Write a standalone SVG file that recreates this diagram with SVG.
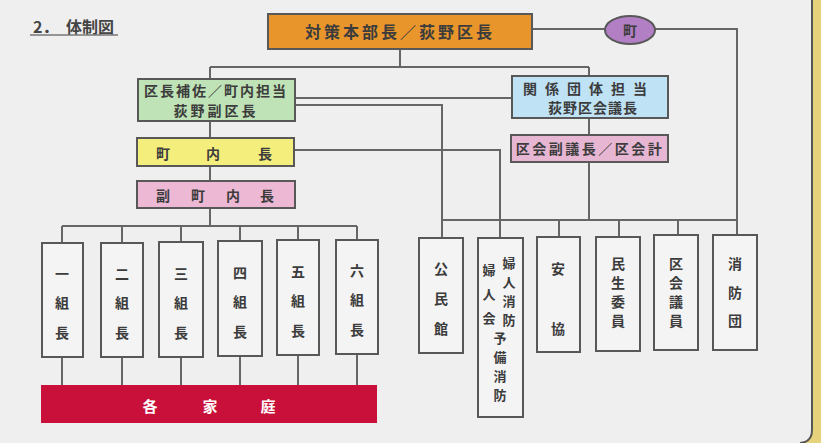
<svg xmlns="http://www.w3.org/2000/svg" width="821" height="443" viewBox="0 0 821 443">
<style>
.box{stroke:#585858;stroke-width:2}
.t{font-family:"Noto Sans CJK JP","Noto Sans CJK SC",sans-serif;font-weight:700;fill:#3c3c3c;text-anchor:middle;dominant-baseline:central}
.v{font-size:14px}
.s{font-size:13px}
.ln{fill:none;stroke:#666;stroke-width:2}
</style>
<rect x="0" y="0" width="821" height="443" fill="#e6d27a"/>
<path d="M0 0 H812 V430 Q812 443 799 443 H0 Z" fill="#efefef"/>
<path d="M812 0 V430 Q812 442 800 443" fill="none" stroke="#555" stroke-width="2"/>
<g id="title">
<text y="26" class="t" style="text-anchor:start;font-size:16px;fill:#454545"><tspan x="33">2．</tspan><tspan x="66">体制図</tspan></text>
<line x1="30" y1="35" x2="118" y2="35" stroke="#777" stroke-width="1.5"/>
</g>
<g id="connectors" class="ln">
<path d="M533 29 H605"/>
<path d="M655 29 H737 V235"/>
<path d="M400 49 V67 M210 67 H589 M210 67 V79 M589 67 V76"/>
<path d="M295 98 H512"/>
<path d="M295 105 H442 V238"/>
<path d="M294 150 H500 V238"/>
<path d="M210 121 V138 M210 166 V181 M210 208 V226"/>
<path d="M62 226 H357 M62 226 V243 M122 226 V243 M181 226 V242 M240 226 V241 M298 226 V240 M357 226 V240"/>
<path d="M62 357 V385 M122 357 V385 M181 357 V385 M240 356 V385 M298 355 V385 M357 354 V385"/>
<path d="M589 118 V135 M589 162 V220"/>
<path d="M442 220 H737 M559 220 V237 M619 220 V237 M678 220 V235"/>
</g>
<g id="honbucho">
<rect x="268" y="14" width="264" height="35" fill="#e8962c" class="box"/>
<text x="400" y="31" class="t" style="font-size:16px;letter-spacing:3px">対策本部長／荻野区長</text>
</g>
<g id="machi">
<ellipse cx="630" cy="30" rx="25" ry="14" fill="#b27ec4" class="box"/>
<text x="630" y="30" class="t" style="font-size:14px">町</text>
</g>
<g id="fukukucho">
<rect x="138" y="79" width="157" height="42" fill="#bfe3b6" class="box"/>
<text x="216" y="90" class="t" style="font-size:14px;letter-spacing:2px">区長補佐／町内担当</text>
<text x="216" y="110" class="t" style="font-size:14px;letter-spacing:3px">荻野副区長</text>
</g>
<g id="kaigicho">
<rect x="512" y="76" width="156" height="42" fill="#bfe2f4" class="box"/>
<text x="589" y="88" class="t" style="font-size:14px;letter-spacing:8px">関係団体担当</text>
<text x="593" y="107" class="t" style="font-size:14px;letter-spacing:1px">荻野区会議長</text>
</g>
<g id="fukugicho">
<rect x="511" y="135" width="157" height="27" fill="#e7b6d3" class="box"/>
<text x="590" y="148" class="t" style="font-size:14px;letter-spacing:2.5px">区会副議長／区会計</text>
</g>
<g id="chonaicho">
<rect x="137" y="138" width="157" height="28" fill="#f4ef7c" class="box"/>
<text class="t v" y="153"><tspan x="163">町</tspan><tspan x="213">内</tspan><tspan x="265">長</tspan></text>
</g>
<g id="fukuchonaicho">
<rect x="137" y="181" width="158" height="27" fill="#ecb8d4" class="box"/>
<text class="t v" y="195"><tspan x="163">副</tspan><tspan x="198">町</tspan><tspan x="233">内</tspan><tspan x="267">長</tspan></text>
</g>
<g id="kumi1">
<rect x="42" y="243" width="41" height="114" fill="#f4f4f4" class="box"/>
<text class="t v"><tspan x="62" y="273">一</tspan><tspan x="62" y="302">組</tspan><tspan x="62" y="332">長</tspan></text>
</g>
<g id="kumi2">
<rect x="101" y="243" width="42" height="114" fill="#f4f4f4" class="box"/>
<text class="t v"><tspan x="122" y="273">二</tspan><tspan x="122" y="302">組</tspan><tspan x="122" y="332">長</tspan></text>
</g>
<g id="kumi3">
<rect x="159" y="242" width="44" height="115" fill="#f4f4f4" class="box"/>
<text class="t v"><tspan x="181" y="273">三</tspan><tspan x="181" y="302">組</tspan><tspan x="181" y="332">長</tspan></text>
</g>
<g id="kumi4">
<rect x="218" y="241" width="44" height="115" fill="#f4f4f4" class="box"/>
<text class="t v"><tspan x="240" y="272">四</tspan><tspan x="240" y="301">組</tspan><tspan x="240" y="331">長</tspan></text>
</g>
<g id="kumi5">
<rect x="277" y="240" width="42" height="115" fill="#f4f4f4" class="box"/>
<text class="t v"><tspan x="298" y="271">五</tspan><tspan x="298" y="300">組</tspan><tspan x="298" y="330">長</tspan></text>
</g>
<g id="kumi6">
<rect x="336" y="240" width="42" height="114" fill="#f4f4f4" class="box"/>
<text class="t v"><tspan x="357" y="270">六</tspan><tspan x="357" y="299">組</tspan><tspan x="357" y="329">長</tspan></text>
</g>
<g id="kakukatei">
<rect x="41" y="385" width="336" height="38" fill="#c8103a"/>
<text class="t" y="405" style="font-size:15px;fill:#fff"><tspan x="150">各</tspan><tspan x="210">家</tspan><tspan x="268">庭</tspan></text>
</g>
<g id="kominkan">
<rect x="419" y="238" width="44" height="115" fill="#f4f4f4" class="box"/>
<text class="t v"><tspan x="441" y="268">公</tspan><tspan x="441" y="298">民</tspan><tspan x="441" y="328">館</tspan></text>
</g>
<g id="fujinkai">
<rect x="478" y="238" width="45" height="179" fill="#f4f4f4" class="box"/>
<text class="t s"><tspan x="509" y="262">婦</tspan><tspan x="509" y="281">人</tspan><tspan x="509" y="300">消</tspan><tspan x="509" y="319">防</tspan></text>
<text class="t s"><tspan x="489" y="269">婦</tspan><tspan x="489" y="293">人</tspan><tspan x="489" y="317">会</tspan></text>
<text class="t s"><tspan x="500" y="337">予</tspan><tspan x="500" y="356">備</tspan><tspan x="500" y="375">消</tspan><tspan x="500" y="394">防</tspan></text>
</g>
<g id="ankyo">
<rect x="537" y="237" width="43" height="115" fill="#f4f4f4" class="box"/>
<text class="t v"><tspan x="558" y="268">安</tspan><tspan x="558" y="328">協</tspan></text>
</g>
<g id="minsei">
<rect x="596" y="237" width="44" height="114" fill="#f4f4f4" class="box"/>
<text class="t v"><tspan x="618" y="263">民</tspan><tspan x="618" y="282">生</tspan><tspan x="618" y="301">委</tspan><tspan x="618" y="320">員</tspan></text>
</g>
<g id="kukaigiin">
<rect x="654" y="235" width="44" height="115" fill="#f4f4f4" class="box"/>
<text class="t v"><tspan x="676" y="263">区</tspan><tspan x="676" y="282">会</tspan><tspan x="676" y="301">議</tspan><tspan x="676" y="320">員</tspan></text>
</g>
<g id="shobodan">
<rect x="713" y="235" width="44" height="115" fill="#f4f4f4" class="box"/>
<text class="t v"><tspan x="735" y="263">消</tspan><tspan x="735" y="292">防</tspan><tspan x="735" y="320">団</tspan></text>
</g>
</svg>
